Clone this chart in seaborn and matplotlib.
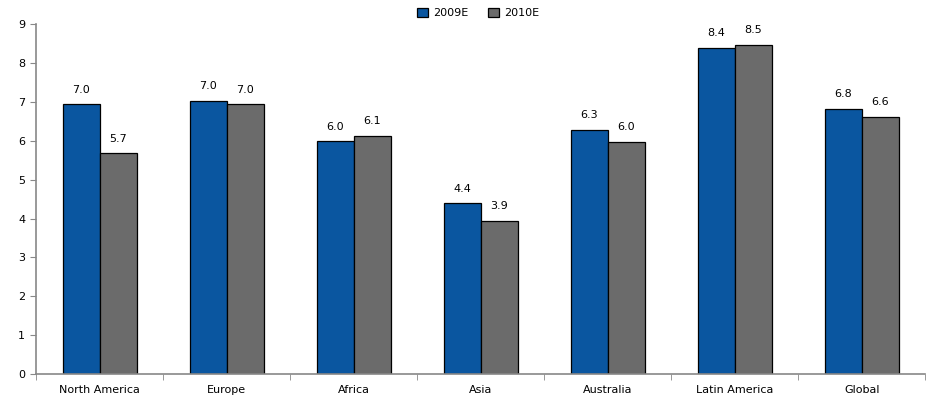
import pandas as pd
import matplotlib.pyplot as plt
import seaborn as sns

# Données
regions = ["North America", "Europe", "Africa", "Asia", "Australia", "Latin America", "Global"]
vals_2009 = [6.94, 7.02, 5.99, 4.39, 6.28, 8.40, 6.83]
vals_2010 = [5.68, 6.94, 6.12, 3.94, 5.97, 8.47, 6.61]
labels_2009 = ["7.0", "7.0", "6.0", "4.4", "6.3", "8.4", "6.8"]
labels_2010 = ["5.7", "7.0", "6.1", "3.9", "6.0", "8.5", "6.6"]

df = pd.DataFrame({
    "Region": regions * 2,
    "Year": ["2009E"] * len(regions) + ["2010E"] * len(regions),
    "Value": vals_2009 + vals_2010,
})

sns.set_style("white")
plt.rcParams['font.family'] = ['DejaVu Sans']
plt.rcParams['text.color'] = 'black'

fig = plt.figure(figsize=(9.28, 4.04), dpi=100)
ax = fig.add_axes([0.039, 0.074, 0.958, 0.866])

sns.barplot(data=df, x="Region", y="Value", hue="Year",
            palette=["#0A56A0", "#6B6B6B"], saturation=1, width=0.58,
            edgecolor="black", linewidth=0.9, ax=ax)

# Étiquettes de valeur
for container, labs in zip(ax.containers, [labels_2009, labels_2010]):
    for bar, lab in zip(container, labs):
        ax.annotate(lab, (bar.get_x() + bar.get_width() / 2, bar.get_height()),
                    xytext=(0, 7), textcoords="offset points",
                    ha="center", va="bottom", fontsize=8, color="black")

ax.set_ylim(0, 9)
ax.set_xlim(-0.5, len(regions) - 0.5)
ax.set_yticks(range(0, 10))
ax.set_xlabel("")
ax.set_ylabel("")
ax.tick_params(axis="x", which="major", length=0, labelsize=8, pad=8, labelcolor="black")
ax.set_xticks([i + 0.5 for i in range(-1, len(regions))], minor=True)
ax.tick_params(axis="x", which="minor", length=4, direction="out", color="#888888", bottom=True)
ax.tick_params(axis="y", length=4, direction="out", color="#888888", labelsize=8, pad=4,
               left=True, labelcolor="black")
for s in ["top", "right"]:
    ax.spines[s].set_visible(False)
for s in ["left", "bottom"]:
    ax.spines[s].set_color("#888888")
    ax.spines[s].set_linewidth(1.2)

ax.legend(loc="upper center", bbox_to_anchor=(0.497, 1.075), ncol=2, frameon=False,
          fontsize=8, handlelength=1.0, handleheight=0.8, columnspacing=1.8, handletextpad=0.4)

plt.savefig("out.png", dpi=100)
